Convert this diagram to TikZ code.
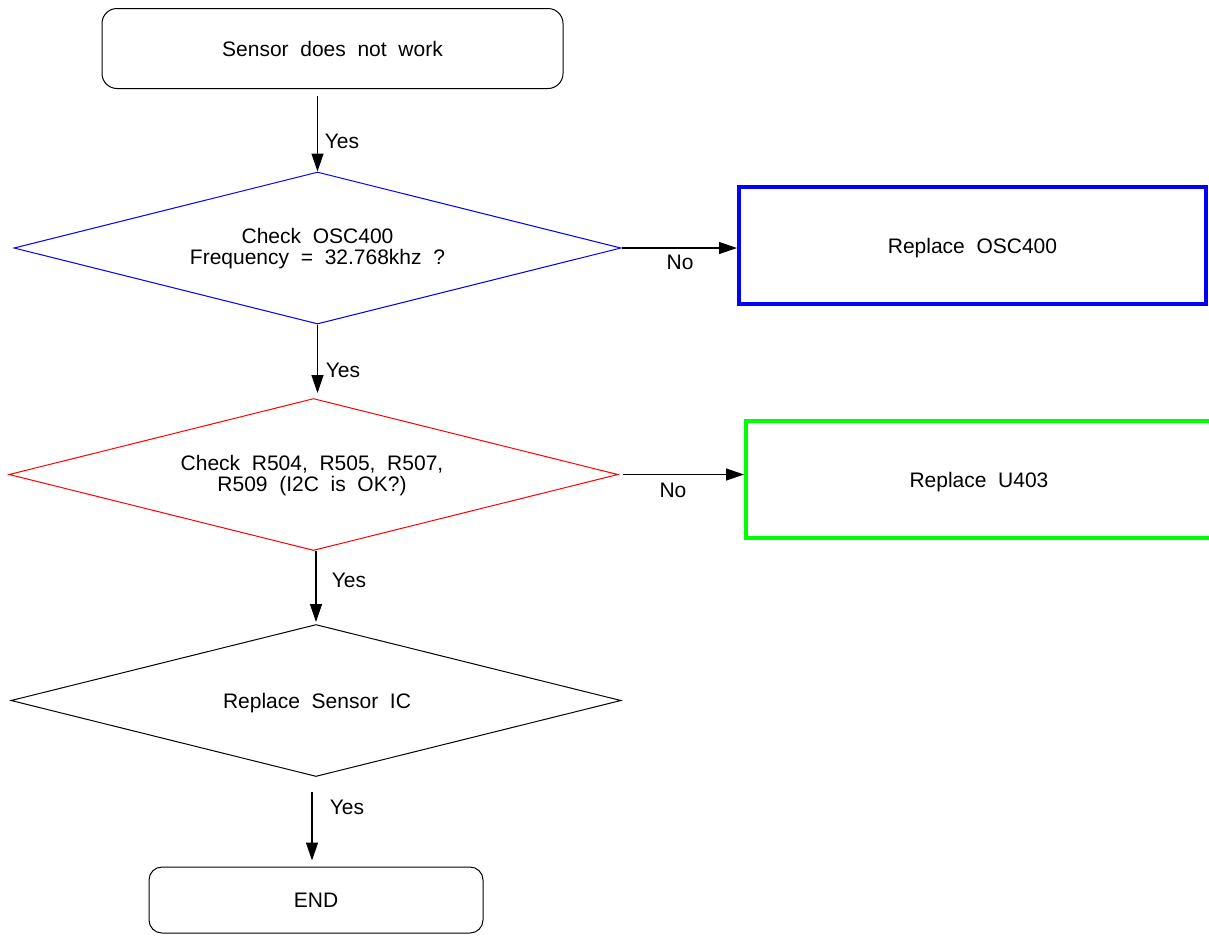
\documentclass[tikz,border=0pt]{standalone}
\usepackage{fontspec}
\setmainfont{Liberation Sans}
\usetikzlibrary{arrows.meta,shapes.geometric}
% wide word gap used throughout the chart
\newcommand\dsp{\hspace{0.556em}}
\begin{document}
\begin{tikzpicture}[x=1pt,y=-1pt,
  font=\fontsize{21}{21}\selectfont,
  terminal/.style={draw=black, line width=1pt, rounded corners=15pt, inner sep=0pt},
  decision/.style={diamond, shape aspect=4, draw, line width=1pt, inner sep=0pt},
  action/.style={draw, line width=4pt, inner sep=0pt, text depth=0pt},
  arr/.style={line width=1.3pt, -{Triangle[length=18pt,width=12pt]}},
  lbl/.style={inner sep=0pt}]
\useasboundingbox (0,0) rectangle (1209,935);
\clip (0,0) rectangle (1209,935);

% terminals
\node[terminal, minimum width=461, minimum height=80] (start) at (332.5,48.5)
  {Sensor\dsp does\dsp not\dsp work};
\node[terminal, rounded corners=13pt, minimum width=334, minimum height=66] (end) at (316,900) {END};

% decisions
\node[decision, draw=blue, minimum width=607, minimum height=152] (d1) at (317.5,248) {};
\node[decision, draw=red, minimum width=609, minimum height=152] (d2) at (313.5,474.5) {};
\node[decision, draw=black, minimum width=610, minimum height=152] (d3) at (316,700.5) {};

\node[lbl, align=center] (t1) at (317.5,248.5)
  {Check\dsp OSC400\\Frequency\dsp =\dsp 32.768khz\dsp ?};
\node[lbl, align=center] (t2) at (312,476)
  {Check\dsp R504,\dsp R505,\dsp R507,\\R509\dsp (I2C\dsp is\dsp OK?)};
\node[lbl] (t3) at (317,703) {Replace\dsp Sensor\dsp IC};

% replacement actions
\node[action, draw=blue, minimum width=467, minimum height=117] (a1) at (972.5,245.5)
  {Replace\dsp OSC400};
\node[action, draw=green, minimum width=466, minimum height=117] (a2) at (979,479.5)
  {Replace\dsp U403};

% connectors
\draw[arr, shorten <=7pt] (start.south -| d1.north) -- (d1.north);
\draw[arr, shorten >=5pt] (d1.south) -- (d1.south |- d2.north);
\draw[arr, shorten >=2pt] (d3.north |- d2.south) -- (d3.north);
\draw[arr, shorten <=15pt, shorten >=6pt] ([xshift=-4pt]end.north |- d3.south) -- ([xshift=-4pt]end.north);
\draw[arr] (d1.east) -- (d1.east -| a1.west);
\draw[arr, shorten <=4pt] (d2.east) -- (d2.east -| a2.west);

% branch labels
\node[lbl] (y1) at (342,141) {Yes};
\node[lbl] (y2) at (343,370) {Yes};
\node[lbl] (y3) at (349,580) {Yes};
\node[lbl] (y4) at (347,807) {Yes};
\node[lbl] (n1) at (680,262) {No};
\node[lbl] (n2) at (673,490) {No};
\end{tikzpicture}
\end{document}
